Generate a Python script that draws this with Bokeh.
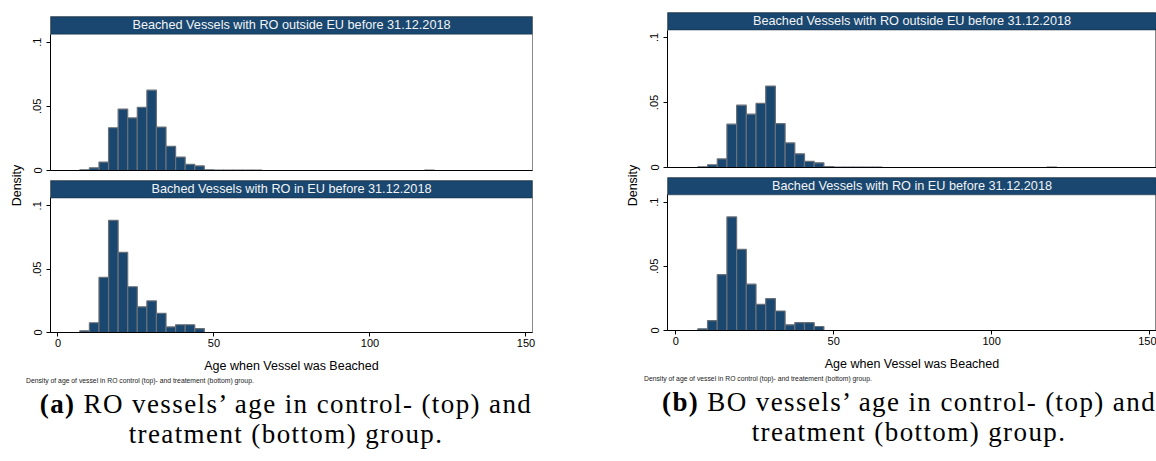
from math import pi
from bokeh.plotting import figure
from bokeh.models import Range1d, FixedTicker, BoxAnnotation, Label, ColumnDataSource, Div
from bokeh.layouts import row, column
from bokeh.embed import file_html
from bokeh.resources import INLINE

# ---------------- data ----------------
bin_width = 3.07
bin_left_control = [7.00, 10.07, 13.14, 16.21, 19.28, 22.35, 25.42, 28.49, 31.56, 34.63,
                    37.70, 40.77, 43.84, 46.91, 49.98, 53.05, 56.12, 59.19, 62.26, 117.53]
density_control = [0.0005, 0.0021, 0.0066, 0.0333, 0.0479, 0.0410, 0.0493, 0.0626, 0.0338, 0.0189,
                   0.0105, 0.0047, 0.0036, 0.0006, 0.0004, 0.0003, 0.0003, 0.0004, 0.0003, 0.0004]
bin_left_treat = [7.00, 10.07, 13.14, 16.21, 19.28, 22.35, 25.42, 28.49, 31.56, 34.63,
                  37.70, 40.77, 43.84]
density_treat = [0.0013, 0.0077, 0.0435, 0.0885, 0.0632, 0.0361, 0.0203, 0.0249, 0.0152, 0.0044,
                 0.0061, 0.0061, 0.0031]

y_ticks = [0, 0.05, 0.1]
y_tick_labels = {0: "0", 0.05: ".05", 0.1: ".1"}
x_ticks = [0, 50, 100, 150]

title_control = "Beached Vessels with RO outside EU before 31.12.2018"
title_treat = "Bached Vessels with RO in EU before 31.12.2018"
x_title = "Age when Vessel was Beached"
y_title = "Density"
note_text = "Density of age of vessel in RO control (top)- and treatement (bottom) group."
caption_a = ("(a)", "RO vessels\u2019 age in control- (top) and", "treatment (bottom) group.")
caption_b = ("(b)", "BO vessels\u2019 age in control- (top) and", "treatment (bottom) group.")

NAVY = "#1a476f"
SANS = "Liberation Sans"


def hist_fig(left, dens, title, width, height, mb_left, mb_right, mb_top, mb_bottom,
             xr, yr, bar_bottom, show_x):
    p = figure(width=width, height=height, x_range=Range1d(*xr), y_range=Range1d(*yr),
               toolbar_location=None, output_backend="svg",
               min_border_left=mb_left, min_border_right=mb_right,
               min_border_top=mb_top, min_border_bottom=mb_bottom,
               background_fill_color="white", border_fill_color="white")
    src = ColumnDataSource(dict(left=left, right=[l + bin_width for l in left], top=dens))
    p.quad(left="left", right="right", top="top", bottom=0, source=src,
           fill_color=NAVY, line_color="#6a7078", line_width=1.2)
    p.xgrid.visible = False
    p.ygrid.visible = False
    p.outline_line_color = "#8a8a8a"
    p.outline_line_width = 1

    ya = p.yaxis[0]
    ya.ticker = FixedTicker(ticks=y_ticks)
    ya.major_label_overrides = y_tick_labels
    ya.major_label_orientation = "vertical"
    ya.major_tick_out = 4
    ya.major_tick_in = 0
    ya.minor_tick_out = 0
    ya.minor_tick_in = 0
    ya.axis_line_color = "black"
    ya.major_tick_line_color = "black"
    ya.major_label_text_font = SANS
    ya.major_label_text_font_size = "11px"
    ya.major_label_text_color = "black"
    ya.major_label_standoff = 5
    ya.bounds = (0, bar_bottom)

    xa = p.xaxis[0]
    xa.axis_line_color = "black"
    xa.minor_tick_out = 0
    xa.minor_tick_in = 0
    xa.major_tick_in = 0
    if show_x:
        xa.ticker = FixedTicker(ticks=x_ticks)
        xa.major_tick_out = 4
        xa.major_tick_line_color = "black"
        xa.major_label_text_font = SANS
        xa.major_label_text_font_size = "11px"
        xa.major_label_text_color = "black"
        xa.major_label_standoff = 2
        xa.axis_label = x_title
        xa.axis_label_text_font = SANS
        xa.axis_label_text_font_style = "normal"
        xa.axis_label_text_font_size = "12.5px"
        xa.axis_label_text_color = "black"
        xa.axis_label_standoff = 9
    else:
        xa.ticker = FixedTicker(ticks=[])
        xa.major_tick_out = 0
        xa.major_label_text_font_size = "0px"

    p.add_layout(BoxAnnotation(bottom=bar_bottom, fill_color=NAVY, fill_alpha=1,
                               line_color="#0b1c2d", line_width=1.5))
    p.add_layout(Label(x=(xr[0] + xr[1]) / 2, y=(bar_bottom + yr[1]) / 2, text=title,
                       text_align="center", text_baseline="middle", text_font=SANS,
                       text_font_size="12.7px", text_color="#f2f4f5"))
    return p


def density_fig(height, xpos, ypos):
    p = figure(width=28, height=height, x_range=Range1d(0, 28), y_range=Range1d(height, 0),
               toolbar_location=None, output_backend="svg", min_border=0,
               background_fill_color="white", border_fill_color="white")
    p.axis.visible = False
    p.grid.visible = False
    p.outline_line_color = None
    p.add_layout(Label(x=xpos, y=ypos, text=y_title, angle=pi / 2, text_align="center",
                       text_baseline="middle", text_font=SANS, text_font_size="12.5px",
                       text_color="black"))
    return p


def caption_div(width, cap, center_pad, center_w, note_pad):
    html = (
        f'<div style="height:12px;line-height:12px;font-family:\'{SANS}\';font-size:6.8px;'
        f'color:#222;padding-left:{note_pad}px;white-space:nowrap">{note_text}</div>'
        f'<div style="box-sizing:border-box;padding-top:2px;padding-left:{center_pad}px;'
        f'width:{center_w}px;text-align:center;font-family:\'Liberation Serif\';font-size:27px;'
        f'line-height:30px;letter-spacing:1.4px;color:#000;white-space:nowrap">'
        f'<b>{cap[0]}</b> {cap[1]}<br>{cap[2]}</div>'
    )
    return Div(text=html, width=width, height=86, margin=0)


# ---------------- left panel (a) ----------------
xr_L = (-2.4, 152.1)
topL = hist_fig(bin_left_control, density_control, title_control, 589, 175, 22, 85, 16, 5,
                xr_L, (0, 0.12), 0.1062, False)
botL = hist_fig(bin_left_treat, density_treat, title_treat, 589, 200, 22, 85, 5, 41,
                xr_L, (0, 0.12), 0.1062, True)
densL = density_fig(375, 16.5, 185)
capL = caption_div(617, caption_a, 0, 572, 26)
panelL = column(row(densL, column(topL, botL)), capL)

# ---------------- right panel (b) ----------------
xr_R = (-2.6, 152.2)
topR = hist_fig(bin_left_control, density_control, title_control, 511, 175, 22, 0, 12, 8,
                xr_R, (0, 0.1192), 0.1057, False)
botR = hist_fig(bin_left_treat, density_treat, title_treat, 511, 198, 22, 0, 2, 42,
                xr_R, (0, 0.1192), 0.1057, True)
densR = density_fig(373, 15.5, 185)
capR = caption_div(539, caption_b, 45, 539, 27)
panelR = column(row(densR, column(topR, botR)), capR)

p = row(panelL, panelR)

open("out.html", "w").write(file_html(p, INLINE))
